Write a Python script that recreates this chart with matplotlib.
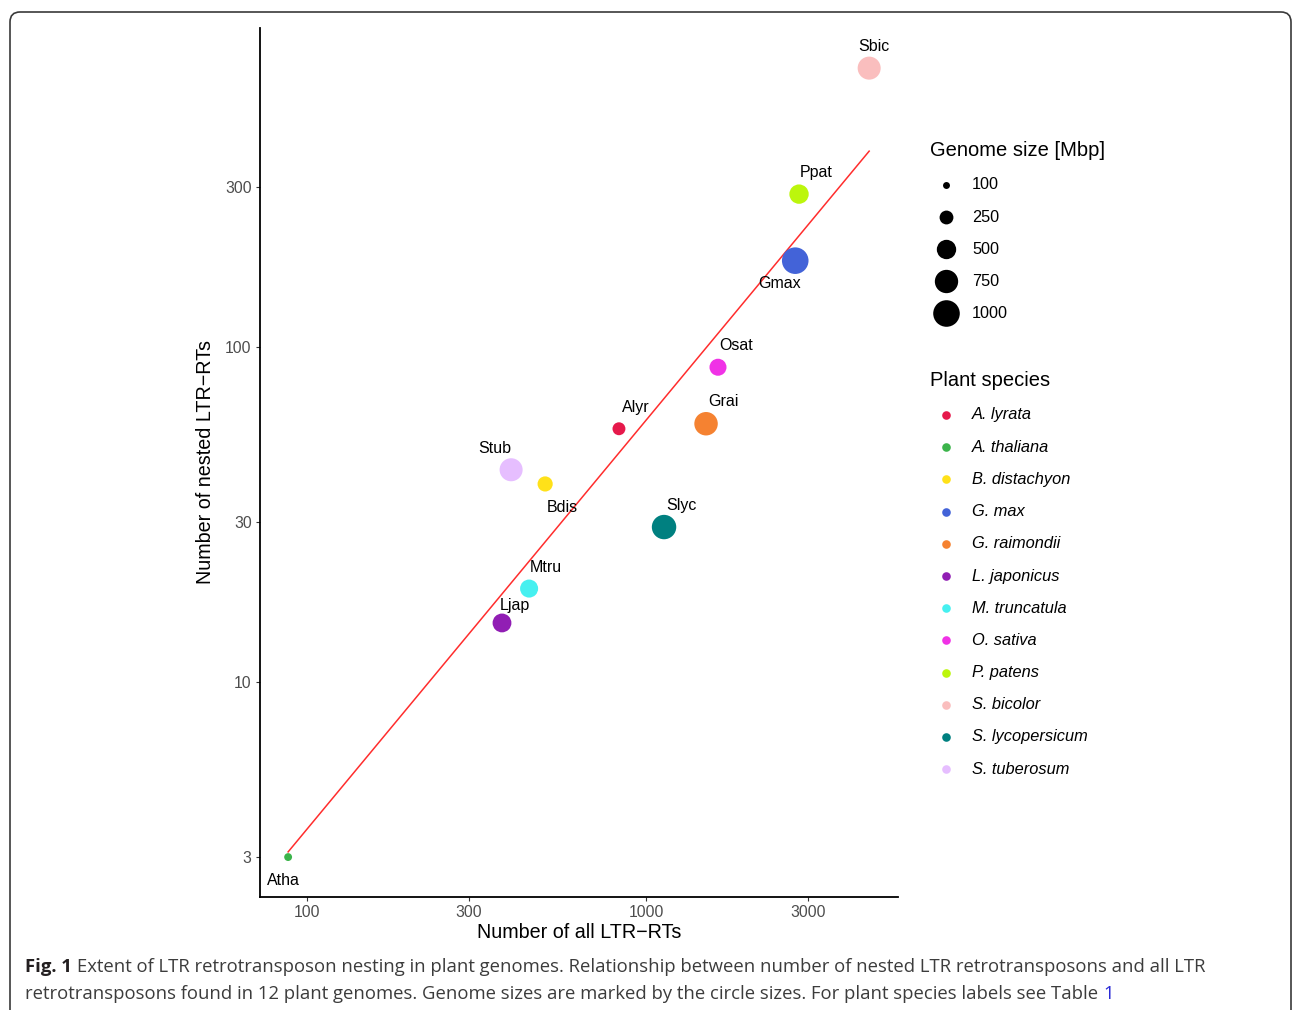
import numpy as np
import matplotlib
matplotlib.use('Agg')
import matplotlib.pyplot as plt
from matplotlib.patches import FancyBboxPatch

# data
species = ['A. lyrata', 'A. thaliana', 'B. distachyon', 'G. max', 'G. raimondii',
           'L. japonicus', 'M. truncatula', 'O. sativa', 'P. patens', 'S. bicolor',
           'S. lycopersicum', 'S. tuberosum']
codes = ['Alyr', 'Atha', 'Bdis', 'Gmax', 'Grai', 'Ljap',
         'Mtru', 'Osat', 'Ppat', 'Sbic', 'Slyc', 'Stub']
all_ltr = [832, 88, 504, 2754, 1503, 376, 452, 1630, 2826, 4550, 1130, 400]
nested_ltr = [57, 3, 39, 181, 59, 15, 19, 87, 286, 680, 29, 43]
genome_size = [220, 110, 300, 1000, 760, 470, 430, 380, 500, 730, 830, 730]
species_colors = ['#E6194B', '#3CB44B', '#FFE119', '#4363D8', '#F58231', '#911EB4',
                  '#46F0F0', '#F032E6', '#BCF60C', '#FABEBE', '#008080', '#E6BEFF']
size_breaks = [100, 250, 500, 750, 1000]
x_ticks = [100, 300, 1000, 3000]
y_ticks = [3, 10, 30, 100, 300]

# label offsets in pixels (dx right, dy down)
label_offsets = {'Alyr': (17, -21), 'Atha': (-5, 23), 'Bdis': (17, 24), 'Gmax': (-16, 23),
                 'Grai': (17, -22), 'Ljap': (13, -17), 'Mtru': (17, -21), 'Osat': (18, -22),
                 'Ppat': (17, -22), 'Sbic': (5, -22), 'Slyc': (17, -22), 'Stub': (-16, -21)}

W, H = 1292, 1010
PT = 0.72  # points per pixel at dpi 100


def fx(x):
    return x / W


def fy(y):
    return 1 - y / H


def radius_px(v):
    # area scale, like ggplot's scale_size
    return 2.313 * (1 + 5 * np.sqrt((np.asarray(v, float) - 90) / 1010))


font = 'Liberation Sans'
plt.rcParams['font.family'] = [font, 'DejaVu Sans']

fig = plt.figure(figsize=(W / 100, H / 100), dpi=100)
ax = fig.add_axes([fx(260), fy(897), fx(898) - fx(260), fy(28) - fy(897)])

# frame around the whole figure
frame = FancyBboxPatch((10 / 100, -0.3), 1281 / 100, (H - 12) / 100 + 0.3,
                       boxstyle='round,pad=0,rounding_size=0.1',
                       transform=fig.dpi_scale_trans, fill=False,
                       edgecolor='#3a3a3a', linewidth=1.2, clip_on=False)
fig.add_artist(frame)

# regression line in log space
lx = np.log10(all_ltr)
ly = np.log10(nested_ltr)
slope, icpt = np.polyfit(lx, ly, 1)
xs = np.array([lx.min(), lx.max()])
ax.plot(10 ** xs, 10 ** (icpt + slope * xs), color='#FF2D2D', lw=1.1, zorder=2)

sizes = (2 * radius_px(genome_size) * PT) ** 2
ax.scatter(all_ltr, nested_ltr, s=sizes, c=species_colors, linewidths=0, zorder=3)

for code, x, y in zip(codes, all_ltr, nested_ltr):
    dx, dy = label_offsets[code]
    ax.annotate(code, (x, y), xytext=(dx * PT, -dy * PT), textcoords='offset points',
                ha='center', va='center', fontsize=11.5, color='black', zorder=4)

ax.set_xscale('log')
ax.set_yscale('log')
ax.set_xlim(72.7, 5534)
ax.set_ylim(2.28, 896)
ax.set_xticks(x_ticks)
ax.set_xticklabels([str(t) for t in x_ticks])
ax.set_yticks(y_ticks)
ax.set_yticklabels([str(t) for t in y_ticks])
ax.minorticks_off()
ax.tick_params(length=3, width=0.8, color='#333333', labelcolor='#4D4D4D',
               labelsize=11.3, pad=3)
for side in ['top', 'right']:
    ax.spines[side].set_visible(False)
for side in ['left', 'bottom']:
    ax.spines[side].set_linewidth(1.3)
ax.set_xlabel('Number of all LTR\u2212RTs', fontsize=14.2, labelpad=2)
ax.set_ylabel('Number of nested LTR\u2212RTs', fontsize=14.2, labelpad=7)

# genome size legend
fig.text(fx(930), fy(150), 'Genome size [Mbp]', fontsize=14.5, va='center', ha='left')
size_rows = [185, 217, 249, 281, 313]
for b, yy in zip(size_breaks, size_rows):
    r = radius_px(b)
    fig.add_artist(plt.Line2D([fx(946)], [fy(yy)], marker='o', markersize=2 * r * PT,
                              markerfacecolor='black', markeredgewidth=0, color='black'))
    fig.text(fx(972), fy(yy), str(b), fontsize=11.7, va='center', ha='left')

# species legend
fig.text(fx(930), fy(381), 'Plant species', fontsize=14.5, va='center', ha='left')
for i, (sp, col) in enumerate(zip(species, species_colors)):
    yy = 415 + i * 32.2
    fig.add_artist(plt.Line2D([fx(946)], [fy(yy)], marker='o', markersize=8.6 * PT,
                              markerfacecolor=col, markeredgewidth=0, color=col))
    fig.text(fx(972), fy(yy), sp, fontsize=11.8, style='italic', va='center', ha='left')

# caption
fig.canvas.draw()
rend = fig.canvas.get_renderer()
cap_font = ['Open Sans', 'DejaVu Sans']
cap_size = 13.3
t = fig.text(fx(25), fy(967), 'Fig. 1', fontsize=cap_size, weight='bold',
             color='#231F20', family=cap_font, va='center', ha='left')
bb = t.get_window_extent(rend)
fig.text((bb.x1 + 5) / W, fy(967),
         'Extent of LTR retrotransposon nesting in plant genomes. Relationship between '
         'number of nested LTR retrotransposons and all LTR',
         fontsize=cap_size, color='#3C3C3C', family=cap_font, va='center', ha='left')
t2 = fig.text(fx(25), fy(994),
              'retrotransposons found in 12 plant genomes. Genome sizes are marked by the '
              'circle sizes. For plant species labels see Table',
              fontsize=cap_size, color='#3C3C3C', family=cap_font, va='center', ha='left')
bb2 = t2.get_window_extent(rend)
fig.text((bb2.x1 + 5) / W, fy(994), '1', fontsize=cap_size, color='#2B2BD6',
         family=cap_font, va='center', ha='left')

fig.savefig('out.png', dpi=100)
